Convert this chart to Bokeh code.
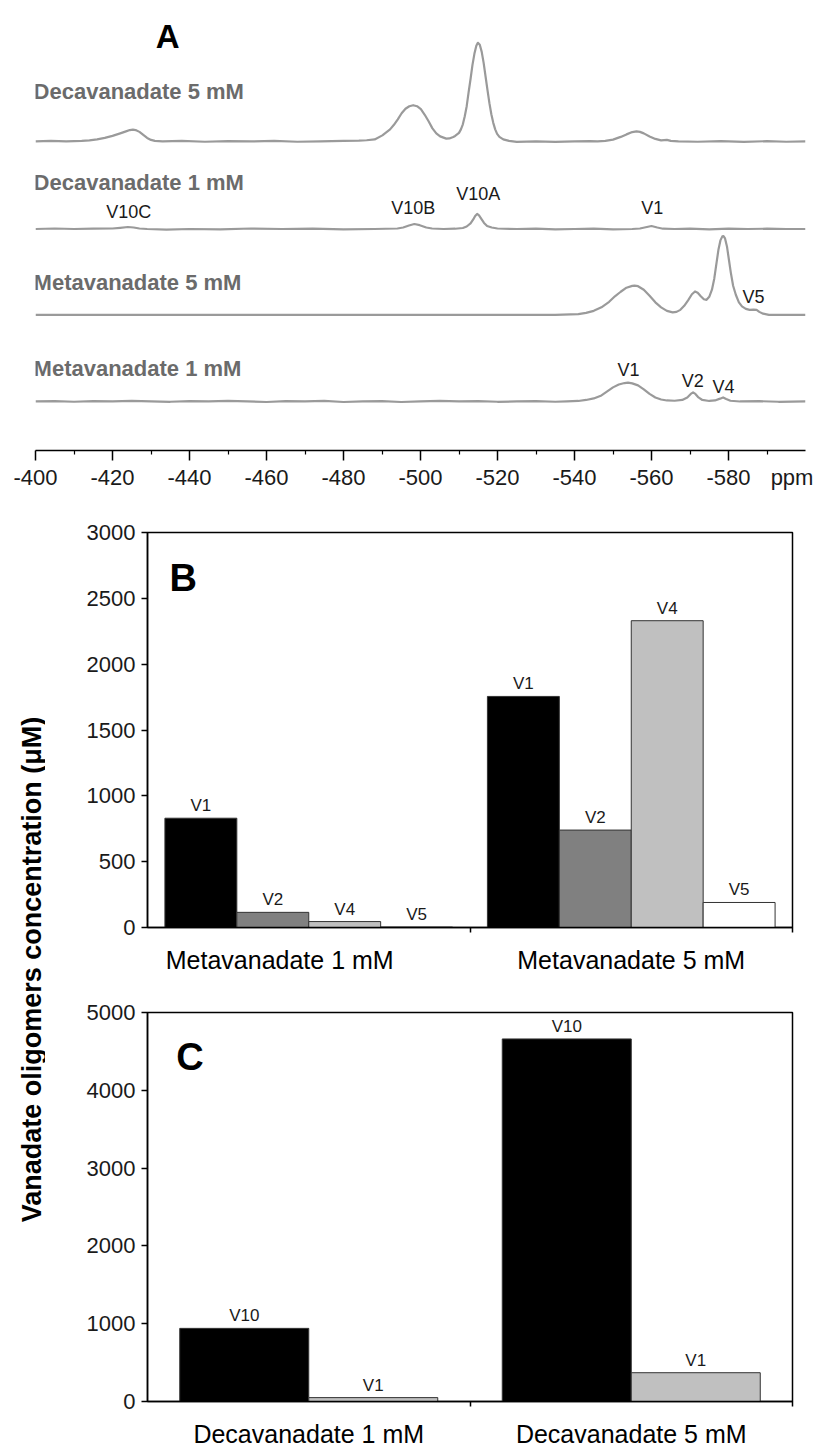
import math
from bokeh.plotting import figure
from bokeh.models import Range1d, FixedTicker, Label, ColumnDataSource, LinearAxis
from bokeh.layouts import column, row
from bokeh.embed import file_html
from bokeh.resources import INLINE
from bokeh.core.properties import value

# ---------------- Panel A: 51V NMR spectra (ppm, relative intensity) ----------------
dec5_ppm = [-400, -404, -408, -412, -414, -416, -418, -420, -422, -423.5, -424.5, -425.3, -426,
            -427, -428, -429, -430, -431, -433, -438, -444, -450, -456, -462, -468, -474, -480,
            -484, -486, -488.1, -490.1, -492.1, -493.1, -494.1, -495.1, -496.1, -497.1, -498.1,
            -499.1, -500.1, -501.1, -502.1, -503.1, -504.1, -505.1, -506.7, -507.5, -508.5, -509,
            -510, -510.5, -511, -511.5, -512, -512.5, -513, -513.5, -514, -514.5, -514.9, -515.4,
            -515.9, -516.4, -516.9, -517.4, -517.9, -518.4, -518.9, -519.4, -519.9, -520.5,
            -521.5, -523, -525, -530, -535, -540, -544, -546, -548, -550, -552, -553.5, -555,
            -556.1, -557, -558, -559.5, -561, -562.5, -564, -565, -567, -572, -578, -584, -590,
            -595, -600]
dec5_int = [0, 0.5, 0, 0.5, 1, 2, 3.5, 5.5, 8, 10, 11.3, 11.7, 11.3,
            9.5, 6.5, 3.5, 1.5, 0.5, 0, 0.5, -0.3, 0.3, 0, 0.5, -0.3, 0, 0.5,
            0.8, 1.2, 2, 6, 12, 16.5, 22, 28, 32.5, 35, 36,
            35, 32, 26.5, 20, 13, 8, 5, 2.8, 3, 4.5, 5.5,
            8.5, 12, 17, 25, 35, 49, 62, 76, 87, 95, 98, 96,
            89, 78, 64.5, 51, 38, 27, 18.5, 12, 7.5, 4.5,
            2, 0.5, -0.5, 0, -0.5, 0, 0.3, 0, 0.5, 1.8, 4.5, 7, 9.3,
            10, 9.5, 8, 5, 2.5, 1, 1.5, 0.5, 0, -0.3, 0.3, -0.5, 0.3,
            -0.3, 0]

dec1_ppm = [-400, -405, -410, -415, -420, -422, -424, -425.5, -427, -429, -434, -440, -448, -456,
            -464, -472, -480, -488, -494, -495.5, -497, -498.4, -499.8, -501.5, -503, -506, -509,
            -511, -512, -513, -513.7, -514.2, -514.7, -515.2, -515.8, -516.5, -517.3, -518.5, -520,
            -525, -530, -535, -540, -545, -550, -555, -557, -558.5, -560, -561.5, -563, -566,
            -570, -575, -580, -585, -590, -595, -600]
dec1_int = [0, 0.5, 0, 0.3, 0.5, 1.2, 2, 1.5, 0.5, 0, -0.5, 0, -0.3, 0.5,
            0, 0.3, -0.3, 0, 0.5, 1.5, 3.5, 5, 3.8, 1.5, 0.5, 0, 0.3,
            1, 2.5, 5.5, 9.5, 13, 15, 13.5, 10, 6, 3, 1.5, 0.5,
            0, 0.3, -0.3, 0, 0.3, -0.3, 0, 0.5, 1.8, 3, 1.5, 0.3, 0,
            0.3, -0.3, 0.3, 0, 0.3, 0, 0]

meta5_ppm = [-400, -420, -440, -460, -480, -500, -520, -535, -541, -543, -545, -547, -549, -550.5,
             -552, -553.5, -555, -555.6, -556.5, -558, -559.5, -561, -562.5, -564, -565.5, -566.5,
             -567.5, -568.5, -569.5, -570.5, -571.3, -572, -572.8, -573.6, -574.3, -575, -575.7,
             -576.3, -576.9, -577.4, -577.9, -578.4, -578.7, -579.1, -579.6, -580.1, -580.6,
             -581.2, -581.9, -582.7, -583.5, -584.5, -585.5, -586.5, -587.3, -588, -589, -590.5,
             -595, -600]
meta5_int = [0, 0, 0, 0, 0, 0, 0, 0, 0.7, 2, 4, 7.5, 13, 18.5,
             23, 27, 28.8, 29, 28.5, 25, 19, 12.5, 7.5, 4, 2.5, 3,
             5, 9, 14.5, 20.5, 23.3, 22, 18.5, 15.5, 15, 18, 25,
             36, 52, 65, 74, 78, 78.3, 76, 68, 55, 42,
             29, 20, 12.5, 8.5, 6, 5, 5.3, 5, 3, 1.2, 0,
             0, 0]

meta1_ppm = [-400, -405, -410, -415, -420, -425, -430, -435, -440, -445, -450, -455, -460, -465,
             -470, -475, -480, -485, -490, -495, -500, -505, -510, -515, -520, -525, -530, -535,
             -538, -541, -543, -545, -547, -548.5, -550, -551.5, -553, -553.9, -555, -556.5, -558,
             -559.5, -561, -562.5, -564, -566, -568, -569.3, -570.2, -570.8, -571.4, -572.2,
             -573.2, -575, -576.5, -577.8, -578.6, -579.4, -580.5, -583, -588, -593, -600]
meta1_int = [0, 0.3, -0.3, 0.3, 0, 0.5, 0, -0.3, 0.3, 0, 0.5, 0, -0.5, 0.3,
             0, 0.5, -0.5, 0, 0.3, -0.5, 0, 0.5, 0, 0.3, -0.3, 0, 0.3, -0.3,
             0, 0.5, 1.5, 3, 6, 10, 14, 16.8, 18.3, 18.7, 18, 16, 12,
             7.5, 4, 2, 1, 0.7, 1.5, 4, 7.5, 9, 7.5, 4,
             1.5, 0.5, 1, 2.8, 4, 2.5, 0.7, 0, 0.3, -0.3, 0]

spectrum_names = ["Decavanadate 5 mM", "Decavanadate 1 mM", "Metavanadate 5 mM", "Metavanadate 1 mM"]
ppm_ticks = [-400, -420, -440, -460, -480, -500, -520, -540, -560, -580]
ppm_minor = [-410, -430, -450, -470, -490, -510, -530, -550, -570, -590]
ppm_tick_labels = ["-400", "-420", "-440", "-460", "-480", "-500", "-520", "-540", "-560", "-580"]
ppm_unit = "ppm"

# peak annotations: (text, ppm)
dec1_peaks = [("V10C", -424.2), ("V10B", -498.1), ("V10A", -515.0), ("V1", -560.2)]
meta5_peaks = [("V5", -586.5)]
meta1_peaks = [("V1", -554.0), ("V2", -570.7), ("V4", -578.7)]

# ---------------- Panel B: metavanadate solutions ----------------
b_groups = ["Metavanadate 1 mM", "Metavanadate 5 mM"]
b_species = ["V1", "V2", "V4", "V5"]
b_meta1 = [830, 115, 45, 3]
b_meta5 = [1755, 740, 2330, 190]
b_colors = ["#000000", "#808080", "#c0c0c0", "#ffffff"]
b_yticks = [0, 500, 1000, 1500, 2000, 2500, 3000]

# ---------------- Panel C: decavanadate solutions ----------------
c_groups = ["Decavanadate 1 mM", "Decavanadate 5 mM"]
c_species = ["V10", "V1"]
c_deca1 = [940, 50]
c_deca5 = [4660, 370]
c_colors = ["#000000", "#c0c0c0"]
c_yticks = [0, 1000, 2000, 3000, 4000, 5000]

y_title = "Vanadate oligomers concentration (\u03bcM)"

FONT = "Liberation Sans"
TXT = "#1a1a1a"

# ================= Panel A figure =================
pA = figure(width=813, height=492, x_range=Range1d(-400, -600), y_range=Range1d(0, 447),
            output_backend="svg", toolbar_location=None, y_axis_location=None,
            min_border_left=35, min_border_right=8, min_border_top=0, min_border_bottom=20)
pA.outline_line_color = None
pA.grid.visible = False
ax = pA.xaxis[0]
ax.ticker = FixedTicker(ticks=ppm_ticks, minor_ticks=ppm_minor)
ax.major_label_text_font_size = "0px"
ax.major_label_standoff = 0
ax.major_label_overrides = {t: "" for t in ppm_ticks}
ax.axis_line_width = 1.5
ax.axis_line_color = "#000000"
ax.major_tick_out = 10
ax.major_tick_in = 0
ax.minor_tick_out = 4
ax.minor_tick_in = 0
ax.major_tick_line_width = 1.5
ax.minor_tick_line_width = 1.2

# second axis carrying only the tick labels (and the unit)
lab_ticks = ppm_ticks + [-596.5]
ax2 = LinearAxis(ticker=FixedTicker(ticks=lab_ticks, minor_ticks=[]),
                 major_label_overrides={t: l for t, l in zip(lab_ticks, ppm_tick_labels + [ppm_unit])},
                 axis_line_color=None, major_tick_line_color=None, minor_tick_line_color=None,
                 major_tick_out=0, major_tick_in=0, minor_tick_out=0, minor_tick_in=0,
                 major_label_text_font=FONT, major_label_text_font_size="22px",
                 major_label_text_color=TXT, major_label_standoff=4)
pA.add_layout(ax2, "below")

baselines = [307, 220, 134.7, 48.7]
spectra = [(dec5_ppm, dec5_int), (dec1_ppm, dec1_int), (meta5_ppm, meta5_int), (meta1_ppm, meta1_int)]
for (xs, ys), base in zip(spectra, baselines):
    pA.line(xs, [base + v for v in ys], line_color="#9a9a9a", line_width=2.2,
            line_join="round")

title_y = [357, 266, 166.5, 81]
for name, ty in zip(spectrum_names, title_y):
    pA.add_layout(Label(x=-399.5, y=ty, text=name, text_font=FONT, text_font_style="bold",
                        text_font_size="22px", text_color="#6b6b6b",
                        text_align="left", text_baseline="middle"))

peak_y = {("V10C", 1): 237, ("V10B", 1): 241, ("V10A", 1): 255, ("V1", 1): 241,
          ("V5", 2): 152, ("V1", 3): 80, ("V2", 3): 69, ("V4", 3): 63}
for idx, peaks in ((1, dec1_peaks), (2, meta5_peaks), (3, meta1_peaks)):
    for txt, ppm in peaks:
        pA.add_layout(Label(x=ppm, y=peak_y[(txt, idx)], text=txt, text_font=FONT,
                            text_font_size="18px", text_color=TXT,
                            text_align="center", text_baseline="middle"))

pA.add_layout(Label(x=-434.3, y=411, text="A", text_font=FONT, text_font_style="bold",
                    text_font_size="33px", text_color="#000000",
                    text_align="center", text_baseline="middle"))


def bar_panel(width, height, top, bottom, left, right, ymax, yticks, groups, series,
              species, colors, bar_w, start, label_ticks, letter, letter_pos):
    p = figure(width=width, height=height, x_range=Range1d(0, 2), y_range=Range1d(0, ymax),
               output_backend="svg", toolbar_location=None,
               min_border_left=left, min_border_right=right,
               min_border_top=top, min_border_bottom=bottom)
    p.grid.visible = False
    p.outline_line_color = "#000000"
    p.outline_line_width = 1.5
    xs, tops, cols, labs = [], [], [], []
    for g, vals in enumerate(series):
        for i, v in enumerate(vals):
            xs.append(g + start + bar_w * (i + 0.5))
            tops.append(v)
            cols.append(colors[i])
            labs.append(species[i])
    src = ColumnDataSource(dict(x=xs, top=tops, color=cols, label=labs))
    p.vbar(x="x", top="top", bottom=0, width=bar_w, fill_color="color",
           line_color="#333333", line_width=1, source=src)
    p.text(x="x", y="top", text="label", source=src, text_align="center",
           text_baseline="bottom", y_offset=-3, text_font=value(FONT),
           text_font_size="17px", text_color=TXT)
    xa = p.xaxis[0]
    xa.ticker = FixedTicker(ticks=label_ticks, minor_ticks=[1.0, 2.0])
    xa.major_label_overrides = {t: gname for t, gname in zip(label_ticks, groups)}
    xa.major_tick_out = 0
    xa.major_tick_in = 0
    xa.minor_tick_out = 5
    xa.minor_tick_in = 0
    xa.minor_tick_line_width = 1.5
    xa.axis_line_width = 1.5
    xa.major_label_text_font = FONT
    xa.major_label_text_font_size = "25px"
    xa.major_label_text_color = "#000000"
    xa.major_label_standoff = 13
    ya = p.yaxis[0]
    ya.ticker = FixedTicker(ticks=yticks)
    ya.minor_tick_line_color = None
    ya.major_tick_out = 6
    ya.major_tick_in = 0
    ya.major_tick_line_width = 1.5
    ya.axis_line_width = 1.5
    ya.major_label_text_font = FONT
    ya.major_label_text_font_size = "22px"
    ya.major_label_text_color = TXT
    ya.major_label_standoff = 6
    p.add_layout(Label(x=letter_pos[0], y=letter_pos[1], text=letter, text_font=FONT,
                       text_font_style="bold", text_font_size="38px", text_color="#000000",
                       text_align="center", text_baseline="middle"))
    return p


pB = bar_panel(768, 490, 40, 55, 98, 21, 3000, b_yticks, b_groups, [b_meta1, b_meta5],
               b_species, b_colors, 0.223, 0.054, [0.41, 1.5], "B", (0.111, 2658))
pC = bar_panel(768, 468, 30, 44, 102, 16, 5000, c_yticks, c_groups, [c_deca1, c_deca5],
               c_species, c_colors, 0.40, 0.10, [0.5, 1.5], "C", (0.132, 4429))

# shared y-axis title
pL = figure(width=45, height=958, x_range=Range1d(0, 45), y_range=Range1d(0, 958),
            output_backend="svg", toolbar_location=None, x_axis_location=None,
            y_axis_location=None, min_border=0)
pL.outline_line_color = None
pL.grid.visible = False
pL.add_layout(Label(x=31, y=481, text=y_title, angle=math.pi / 2, text_font=FONT,
                    text_font_style="bold", text_font_size="27px", text_color="#000000",
                    text_align="center", text_baseline="middle"))

layout = column(pA, row(pL, column(pB, pC)))
open("out.html", "w").write(file_html(layout, INLINE))
